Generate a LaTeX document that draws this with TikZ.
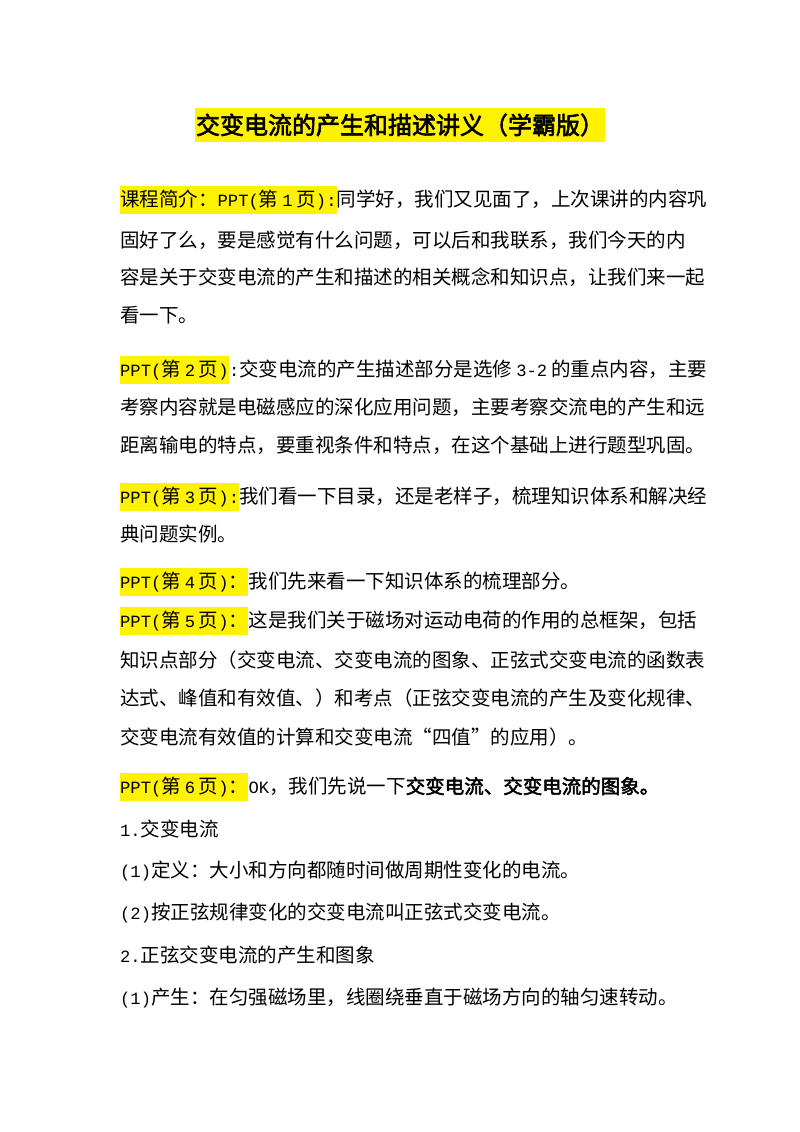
\documentclass[tikz,border=0pt]{standalone}
\usepackage{fontspec}
\setmainfont{Noto Sans CJK SC}
\newfontfamily\mono{Liberation Mono}[Scale=0.88]
\newfontfamily\cjkb{Noto Sans CJK SC}[FakeBold=2.5]
\newcommand{\m}[1]{{\mono #1}}
\newcommand{\gp}{\hspace{0.2em}}
\tikzset{
 txt/.style={inner sep=0pt,font=\fontsize{19.5pt}{22pt}\selectfont,text=black},
 hl/.style={txt,fill=yellow,inner ysep=4pt},
 ttl/.style={inner xsep=1pt,inner ysep=6pt,fill=yellow,font=\cjkb\fontsize{24pt}{28pt}\selectfont}
}
\begin{document}
\begin{tikzpicture}[x=1pt,y=-1pt]
\useasboundingbox[fill=white] (0,0) rectangle (800,1132);
\node[ttl] (title) at (400,125) {交变电流的产生和描述讲义（学霸版）};
% para 1
\node[hl,anchor=west] (h1) at (120,200) {课程简介：\m{PPT(}第\gp\m{1}\gp 页\m{):}};
\node[txt,anchor=base west] (t1) at (h1.base east) {同学好，我们又见面了，上次课讲的内容巩};
\node[txt,anchor=west] (l2) at (120,240) {固好了么，要是感觉有什么问题，可以后和我联系，我们今天的内};
\node[txt,anchor=west] (l3) at (120,277) {容是关于交变电流的产生和描述的相关概念和知识点，让我们来一起};
\node[txt,anchor=west] (l4) at (120,315) {看一下。};
% para 2
\node[hl,anchor=west] (h2) at (120,370) {\m{PPT(}第\gp\m{2}\gp 页\m{)}};
\node[txt,anchor=base west] (t2) at (h2.base east) {\m{:}交变电流的产生描述部分是选修\gp\m{3-2}\gp 的重点内容，主要};
\node[txt,anchor=west] (l6) at (120,407) {考察内容就是电磁感应的深化应用问题，主要考察交流电的产生和远};
\node[txt,anchor=west] (l7) at (120,445) {距离输电的特点，要重视条件和特点，在这个基础上进行题型巩固。};
% para 3
\node[hl,anchor=west] (h3) at (120,497) {\m{PPT(}第\gp\m{3}\gp 页\m{):}};
\node[txt,anchor=base west] (t3) at (h3.base east) {我们看一下目录，还是老样子，梳理知识体系和解决经};
\node[txt,anchor=west] (l9) at (120,534) {典问题实例。};
% para 4
\node[hl,anchor=west] (h4) at (120,582) {\m{PPT(}第\gp\m{4}\gp 页\m{)}：};
\node[txt,anchor=base west] (t4) at (h4.base east) {我们先来看一下知识体系的梳理部分。};
% para 5
\node[hl,anchor=west] (h5) at (120,621) {\m{PPT(}第\gp\m{5}\gp 页\m{)}：};
\node[txt,anchor=base west] (t5) at (h5.base east) {这是我们关于磁场对运动电荷的作用的总框架，包括};
\node[txt,anchor=west] (l12) at (120,660) {知识点部分（交变电流、交变电流的图象、正弦式交变电流的函数表};
\node[txt,anchor=west] (l13) at (120,698) {达式、峰值和有效值、）和考点（正弦交变电流的产生及变化规律、};
\node[txt,anchor=west] (l14) at (120,737) {交变电流有效值的计算和交变电流“四值”的应用）。};
% para 6
\node[hl,anchor=west] (h6) at (120,787) {\m{PPT(}第\gp\m{6}\gp 页\m{)}：};
\node[txt,anchor=base west] (t6) at (h6.base east) {\m{OK}，我们先说一下{\cjkb 交变电流、交变电流的图象。}};
\node[txt,anchor=west] (l16) at (120,829) {\m{1.}交变电流};
\node[txt,anchor=west] (l17) at (120,871) {\m{(1)}定义：大小和方向都随时间做周期性变化的电流。};
\node[txt,anchor=west] (l18) at (120,913) {\m{(2)}按正弦规律变化的交变电流叫正弦式交变电流。};
\node[txt,anchor=west] (l19) at (120,955) {\m{2.}正弦交变电流的产生和图象};
\node[txt,anchor=west] (l20) at (120,998) {\m{(1)}产生：在匀强磁场里，线圈绕垂直于磁场方向的轴匀速转动。};
\end{tikzpicture}
\end{document}
